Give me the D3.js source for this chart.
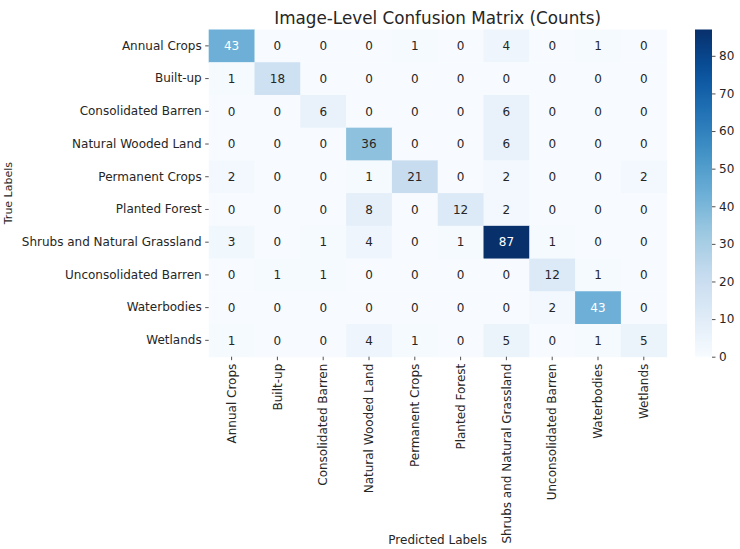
<!DOCTYPE html>
<html>
<head>
<meta charset="utf-8">
<script src="https://cdn.jsdelivr.net/npm/d3@7"></script>
<style>
  body { margin: 0; background: #fff; }
  svg text { font-family: "DejaVu Sans", sans-serif; fill: #262626; }
</style>
</head>
<body>
<div id="chart"></div>
<script>
// class names (same for rows and columns)
var classes = ["Annual Crops", "Built-up", "Consolidated Barren", "Natural Wooded Land",
  "Permanent Crops", "Planted Forest", "Shrubs and Natural Grassland",
  "Unconsolidated Barren", "Waterbodies", "Wetlands"];

// rows = true labels, columns = predicted labels
var counts = [
  [43, 0, 0, 0, 1, 0, 4, 0, 1, 0],
  [1, 18, 0, 0, 0, 0, 0, 0, 0, 0],
  [0, 0, 6, 0, 0, 0, 6, 0, 0, 0],
  [0, 0, 0, 36, 0, 0, 6, 0, 0, 0],
  [2, 0, 0, 1, 21, 0, 2, 0, 0, 2],
  [0, 0, 0, 8, 0, 12, 2, 0, 0, 0],
  [3, 0, 1, 4, 0, 1, 87, 1, 0, 0],
  [0, 1, 1, 0, 0, 0, 0, 12, 1, 0],
  [0, 0, 0, 0, 0, 0, 0, 2, 43, 0],
  [1, 0, 0, 4, 1, 0, 5, 0, 1, 5]
];

var colorTicks = [0, 10, 20, 30, 40, 50, 60, 70, 80];

var W = 740, H = 549;
var grid = { left: 208.7, top: 29.5, right: 666.7, bottom: 356.7 };
var cbar = { left: 695, right: 712, top: 29.5, bottom: 356.7 };
var fs = "12px";

var vmax = d3.max(counts, function (r) { return d3.max(r); });

// matplotlib "Blues" is a linear ramp through the 9 ColorBrewer stops
var blues = d3.schemeBlues[9];
var color = d3.scaleLinear()
  .domain(blues.map(function (d, i) { return i / (blues.length - 1) * vmax; }))
  .range(blues)
  .interpolate(d3.interpolateRgb)
  .clamp(true);

function textColor(c) {
  var rgb = d3.rgb(c);
  var lin = [rgb.r, rgb.g, rgb.b].map(function (v) {
    v = v / 255;
    return v <= 0.03928 ? v / 12.92 : Math.pow((v + 0.055) / 1.055, 2.4);
  });
  var lum = 0.2126 * lin[0] + 0.7152 * lin[1] + 0.0722 * lin[2];
  return lum > 0.408 ? "#262626" : "#ffffff";
}

var svg = d3.select("#chart").append("svg")
  .attr("width", W)
  .attr("height", H);

var x = d3.scaleBand().domain(classes).range([grid.left, grid.right]);
var y = d3.scaleBand().domain(classes).range([grid.top, grid.bottom]);

var cells = [];
counts.forEach(function (row, i) {
  row.forEach(function (v, j) {
    cells.push({ t: classes[i], p: classes[j], v: v });
  });
});

svg.append("g").selectAll("rect")
  .data(cells)
  .enter().append("rect")
  .attr("x", function (d) { return x(d.p); })
  .attr("y", function (d) { return y(d.t); })
  .attr("width", x.bandwidth() + 0.5)
  .attr("height", y.bandwidth() + 0.5)
  .attr("fill", function (d) { return color(d.v); });

svg.append("g").selectAll("text")
  .data(cells)
  .enter().append("text")
  .attr("x", function (d) { return x(d.p) + x.bandwidth() / 2; })
  .attr("y", function (d) { return y(d.t) + y.bandwidth() / 2; })
  .attr("dy", "0.35em")
  .attr("text-anchor", "middle")
  .style("font-size", fs)
  .style("fill", function (d) { return textColor(color(d.v)); })
  .text(function (d) { return d.v; });

// axes
var xAxis = svg.append("g")
  .attr("transform", "translate(0," + grid.bottom + ")")
  .call(d3.axisBottom(x).tickSize(3.5).tickPadding(3.5));
xAxis.selectAll("text")
  .style("font-size", fs)
  .attr("transform", "rotate(-90)")
  .attr("text-anchor", "end")
  .attr("x", -7)
  .attr("y", 0)
  .attr("dy", "0.35em");

var yAxis = svg.append("g")
  .attr("transform", "translate(" + grid.left + ",0)")
  .call(d3.axisLeft(y).tickSize(3.5).tickPadding(3.5));
yAxis.selectAll("text").style("font-size", fs);

[xAxis, yAxis].forEach(function (a) {
  a.select(".domain").remove();
  a.selectAll(".tick line").attr("stroke", "#262626").attr("stroke-width", 0.8);
});

// colorbar
var cScale = d3.scaleLinear().domain([0, vmax]).range([cbar.bottom, cbar.top]);
var defs = svg.append("defs");
var grad = defs.append("linearGradient")
  .attr("id", "cbgrad")
  .attr("x1", "0%").attr("y1", "100%")
  .attr("x2", "0%").attr("y2", "0%");
d3.range(0, 1.0001, 0.05).forEach(function (t) {
  grad.append("stop")
    .attr("offset", (t * 100) + "%")
    .attr("stop-color", color(t * vmax));
});
svg.append("rect")
  .attr("x", cbar.left)
  .attr("y", cbar.top)
  .attr("width", cbar.right - cbar.left)
  .attr("height", cbar.bottom - cbar.top)
  .attr("fill", "url(#cbgrad)");

var cAxis = svg.append("g")
  .attr("transform", "translate(" + cbar.right + ",0)")
  .call(d3.axisRight(cScale).tickValues(colorTicks).tickSize(3.5).tickPadding(3.5));
cAxis.select(".domain").remove();
cAxis.selectAll(".tick line").attr("stroke", "#262626").attr("stroke-width", 0.8);
cAxis.selectAll("text").style("font-size", fs);

// titles
svg.append("text")
  .attr("x", (grid.left + grid.right) / 2)
  .attr("y", 24)
  .attr("text-anchor", "middle")
  .style("font-size", "16.8px")
  .text("Image-Level Confusion Matrix (Counts)");

svg.append("text")
  .attr("x", (grid.left + grid.right) / 2)
  .attr("y", 544)
  .attr("text-anchor", "middle")
  .style("font-size", fs)
  .text("Predicted Labels");

svg.append("text")
  .attr("transform", "translate(11.5," + ((grid.top + grid.bottom) / 2) + ") rotate(-90)")
  .attr("text-anchor", "middle")
  .style("font-size", "11px")
  .text("True Labels");
</script>
</body>
</html>
